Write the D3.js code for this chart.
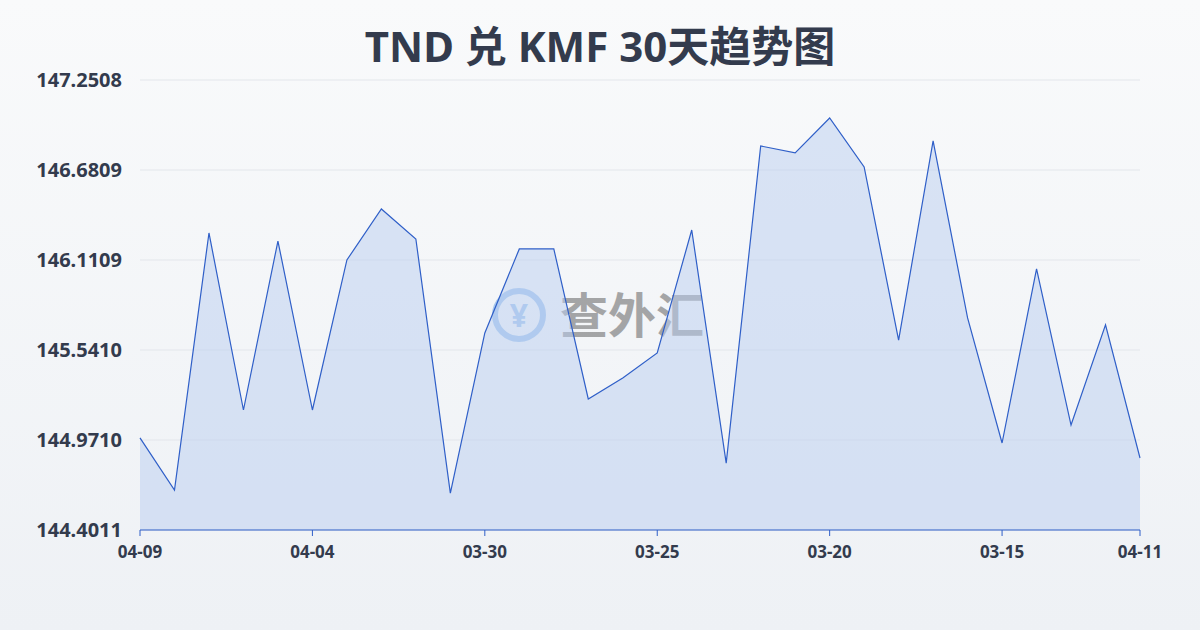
<!DOCTYPE html>
<html><head><meta charset="utf-8">
<script src="https://cdn.jsdelivr.net/npm/d3@7/dist/d3.min.js"></script>
<style>body{margin:0;}svg{display:block;font-family:"Noto Sans","Noto Sans CJK SC",sans-serif;}</style>
</head><body>
<svg id="chart" width="1200" height="630"></svg>
<script>
var title = "TND 兑 KMF 30天趋势图";
var dates = ["04-09","04-08","04-07","04-06","04-05","04-04","04-03","04-02","04-01","03-31",
  "03-30","03-29","03-28","03-27","03-26","03-25","03-24","03-23","03-22","03-21",
  "03-20","03-19","03-18","03-17","03-16","03-15","03-14","03-13","03-12","04-11"];
var values = [144.984,144.654,146.282,145.161,146.231,145.161,146.111,146.434,146.244,144.635,
  145.649,146.181,146.181,145.231,145.364,145.522,146.301,144.825,146.833,146.789,
  147.010,146.700,145.604,146.865,145.744,144.952,146.054,145.066,145.700,144.857];
var yTicks = [144.4011,144.9710,145.5410,146.1109,146.6809,147.2508];
var xTickIdx = [0,5,10,15,20,25,29];

var svg = d3.select("#chart");
var defs = svg.append("defs");
var bg = defs.append("linearGradient").attr("id","bg").attr("x1",0).attr("y1",0).attr("x2",0).attr("y2",1);
bg.append("stop").attr("offset","0%").attr("stop-color","#f9fafb");
bg.append("stop").attr("offset","100%").attr("stop-color","#eef1f5");
svg.append("rect").attr("width",1200).attr("height",630).attr("fill","url(#bg)");

svg.append("text").attr("x",600).attr("y",62).attr("text-anchor","middle")
  .attr("font-size",42).attr("font-weight","bold").attr("fill","#333b4d").text(title);

var x = d3.scaleLinear().domain([0, values.length-1]).range([140,1140]);
var y = d3.scaleLinear().domain([yTicks[0], yTicks[yTicks.length-1]]).range([530,80]);

var g = svg.append("g");
yTicks.forEach(function(t){
  g.append("line").attr("x1",140).attr("x2",1140).attr("y1",y(t)).attr("y2",y(t))
    .attr("stroke","#e3e6eb").attr("stroke-width",1);
  g.append("text").attr("x",122).attr("y",y(t)+7).attr("text-anchor","end").attr("font-size",20).attr("font-weight","bold")
    .attr("fill","#333b4d").text(t.toFixed(4));
});

// watermark
var wm = svg.append("g").attr("opacity",0.45);
wm.append("circle").attr("cx",519).attr("cy",315).attr("r",24).attr("fill","none").attr("stroke","#4a90e2").attr("stroke-width",6);
wm.append("text").attr("x",519).attr("y",327).attr("text-anchor","middle").attr("font-size",32).attr("font-weight","bold").attr("fill","#4a90e2").text("¥");
wm.append("text").attr("x",560).attr("y",333).attr("font-size",48).attr("font-weight","bold").attr("fill","#444").text("查外汇");

var area = d3.area().x(function(d,i){return x(i);}).y0(530).y1(function(d){return y(d);});
var line = d3.line().x(function(d,i){return x(i);}).y(function(d){return y(d);});
svg.append("path").attr("d",area(values)).attr("fill","#b9cdf0").attr("fill-opacity",0.5);
svg.append("path").attr("d",line(values)).attr("fill","none").attr("stroke","#2f5fc8").attr("stroke-width",1.2);

svg.append("line").attr("x1",140).attr("x2",1140).attr("y1",530).attr("y2",530).attr("stroke","#2f5fc8").attr("stroke-width",1);
xTickIdx.forEach(function(i){
  svg.append("line").attr("x1",x(i)).attr("x2",x(i)).attr("y1",530).attr("y2",536).attr("stroke","#2f5fc8");
  svg.append("text").attr("x",x(i)).attr("y",558).attr("text-anchor","middle").attr("font-size",17)
    .attr("font-weight","bold").attr("fill","#333b4d").text(dates[i]);
});
</script>
</body></html>
